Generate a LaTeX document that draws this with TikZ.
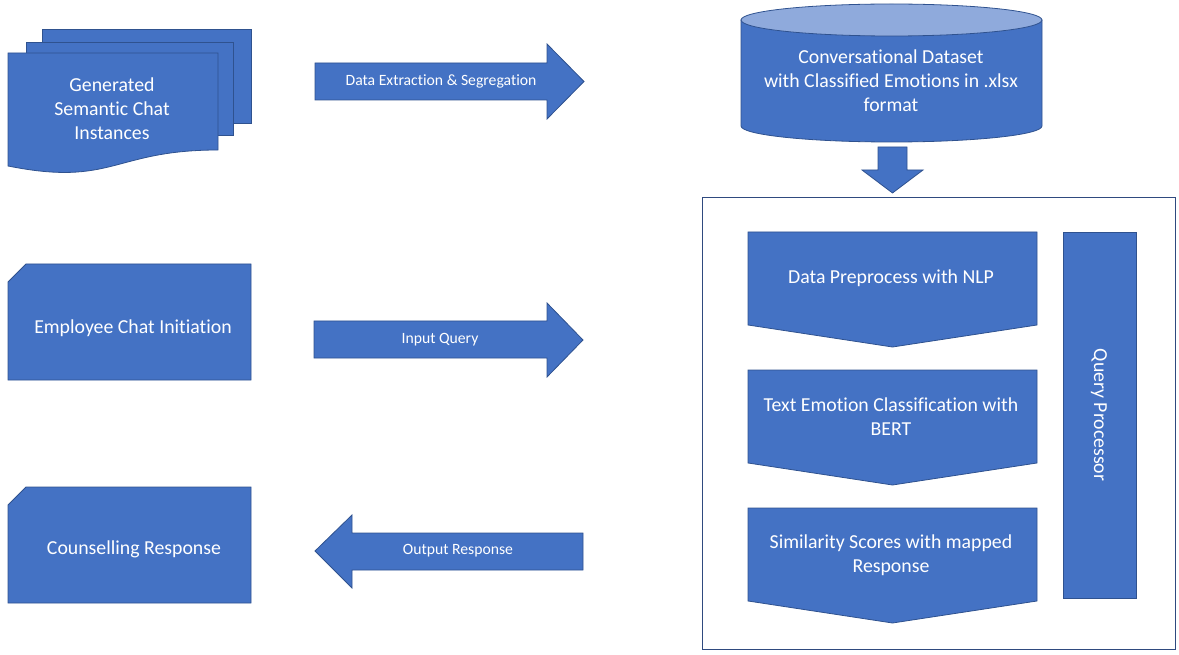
\documentclass[tikz,border=0pt]{standalone}
\usepackage{fontspec}
\setmainfont{Carlito}[Ligatures=NoCommon]
\usepackage{tikz}
\definecolor{boxblue}{HTML}{4472C4}
\definecolor{edgeblue}{HTML}{2F528F}
\definecolor{lidblue}{HTML}{8FAADC}
\definecolor{framenavy}{HTML}{2F4A7F}

\begin{document}
\begin{tikzpicture}[x=1pt,y=-1pt,
    blueshape/.style={fill=boxblue,draw=edgeblue,line width=0.8pt},
    boxtext/.style={text=white,align=center,font=\fontsize{19.8}{24}\selectfont},
    arrowtext/.style={text=white,font=\fontsize{15.7}{18}\selectfont}]
    \useasboundingbox (0,0) rectangle (1179,655);
    % stacked chat pages
    \filldraw[blueshape] (42,29) rectangle (251,123);
    \filldraw[blueshape] (26,42) rectangle (233,135);
    \filldraw[blueshape] (8,53) -- (218,53) -- (218,150)
      .. controls (113,150) and (113,187) .. (8,166) -- cycle;
    \node[boxtext] (chats) at (112,109) {Generated\\Semantic Chat\\Instances};
    % snipped boxes
    \filldraw[blueshape] (26,264) -- (251,264) -- (251,380) -- (8,380) -- (8,282) -- cycle;
    \node[boxtext] (employee) at (133,328) {Employee Chat Initiation};
    \filldraw[blueshape] (26,487) -- (251,487) -- (251,603) -- (8,603) -- (8,505) -- cycle;
    \node[boxtext] (counsel) at (134,549) {Counselling Response};
    % block arrows
    \filldraw[blueshape] (315,63) -- (547,63) -- (547,44) -- (584,81.5)
      -- (547,119) -- (547,100) -- (315,100) -- cycle;
    \node[arrowtext] (extract) at (441,81) {Data Extraction \& Segregation};
    \filldraw[blueshape] (314,321) -- (547,321) -- (547,303) -- (583,340)
      -- (547,377) -- (547,358) -- (314,358) -- cycle;
    \node[arrowtext] (query) at (440,340) {Input Query};
    \filldraw[blueshape] (583,533) -- (352,533) -- (352,515) -- (315,551)
      -- (352,588) -- (352,570) -- (583,570) -- cycle;
    \node[arrowtext] (output) at (458,551) {Output Response};
    % dataset cylinder
    \filldraw[blueshape] (741,20) -- (741,126)
      arc[start angle=180,end angle=0,x radius=150.5,y radius=16] -- (1042,20) -- cycle;
    \filldraw[blueshape,fill=lidblue] (891.5,20) ellipse[x radius=150.5,y radius=16];
    \node[boxtext] (dataset) at (891,81)
      {Conversational Dataset\\with Classified Emotions in .xlsx\\format};
    \filldraw[blueshape] (878,147) -- (907,147) -- (907,170) -- (923,170)
      -- (892.5,193) -- (862,170) -- (878,170) -- cycle;
    % processing frame
    \draw[framenavy,line width=1pt] (702,198) rectangle (1175,649);
    \foreach \t in {232,370,508}
      \filldraw[blueshape] (748,\t) -- (1037,\t) -- (1037,\t+93)
        -- (892.5,\t+115) -- (748,\t+93) -- cycle;
    \node[boxtext] (preprocess) at (891,278) {Data Preprocess with NLP};
    \node[boxtext] (classify) at (891,417) {Text Emotion Classification with\\BERT};
    \node[boxtext] (similarity) at (891,555) {Similarity Scores with mapped\\Response};
    \filldraw[blueshape] (1063,232) rectangle (1136,598);
    \node[boxtext,rotate=-90] (processor) at (1099,415) {Query Processor};
\end{tikzpicture}
\end{document}
